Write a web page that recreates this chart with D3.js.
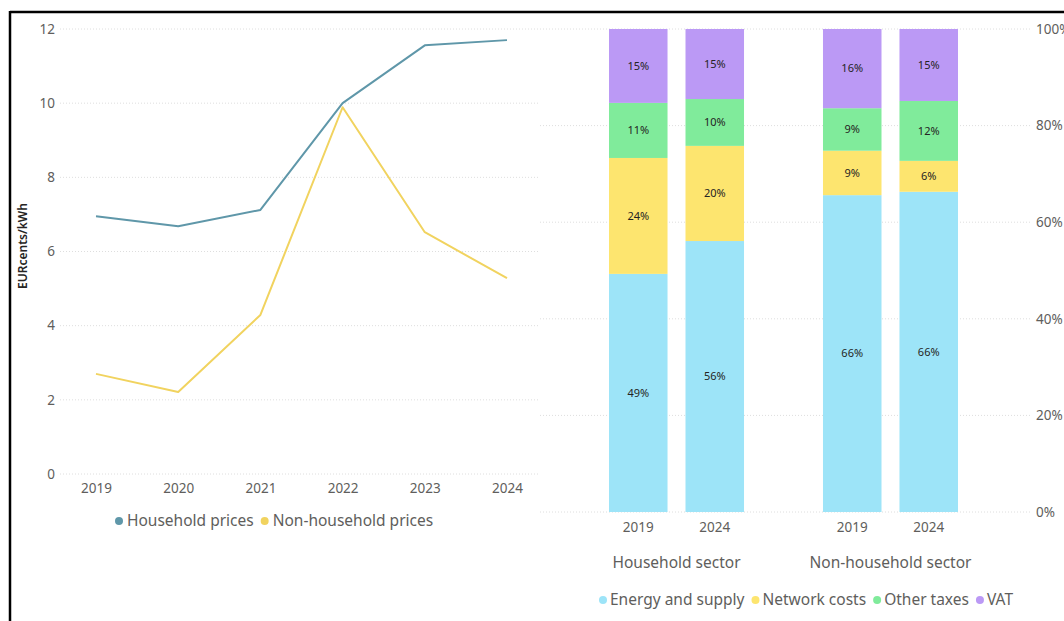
<!DOCTYPE html>
<html>
<head>
<meta charset="utf-8">
<script src="https://cdn.jsdelivr.net/npm/d3@7"></script>
<style>
  html, body { margin: 0; padding: 0; background: #fff; }
  svg { display: block; font-family: "Segoe UI", "Noto Sans", "Open Sans", sans-serif; }
</style>
</head>
<body>
<svg id="chart" width="1064" height="621"></svg>
<script>
// ---- Price trend (line chart) ----
const years = ["2019", "2020", "2021", "2022", "2023", "2024"];
const householdPrices = [6.95, 6.68, 7.12, 10.0, 11.56, 11.7];
const nonHouseholdPrices = [2.70, 2.21, 4.29, 9.89, 6.52, 5.28];
const priceTicks = [0, 2, 4, 6, 8, 10, 12];
const lineSeries = ["Household prices", "Non-household prices"];
const lineColors = ["#5f97a9", "#f1d35f"];

// ---- Price composition (100% stacked bars) ----
const sectors = ["Household sector", "Non-household sector"];
const barYears = ["2019", "2024"];
const components = ["Energy and supply", "Network costs", "Other taxes", "VAT"];
const componentColors = ["#9de4f8", "#fde56f", "#80eb9b", "#bb99f5"];
// shares per bar, in order: household 2019, household 2024, non-household 2019, non-household 2024
const energyShare = [49.3, 56.1, 65.6, 66.3];
const networkShare = [24.0, 19.7, 9.2, 6.4];
const otherTaxShare = [11.4, 9.7, 8.8, 12.4];
const vatShare = [15.3, 14.5, 16.4, 14.9];
const shareTicks = [0, 20, 40, 60, 80, 100];

const svg = d3.select("#chart");
const textGray = "#605e5c";
const font = "Noto Sans, sans-serif";

// frame lines
svg.append("line").attr("x1", 10).attr("x2", 1064).attr("y1", 12).attr("y2", 12)
  .attr("stroke", "#000").attr("stroke-width", 2.5);
svg.append("line").attr("x1", 10).attr("x2", 10).attr("y1", 11).attr("y2", 621)
  .attr("stroke", "#000").attr("stroke-width", 2.5);

// ================= Line chart =================
const xL = d3.scalePoint().domain(years).range([96, 507]);
const yL = d3.scaleLinear().domain([0, 12]).range([474, 29]);

const gridL = svg.append("g");
gridL.selectAll("line").data(priceTicks).join("line")
  .attr("x1", 60).attr("x2", 538)
  .attr("y1", d => yL(d)).attr("y2", d => yL(d))
  .attr("stroke", "#dedede").attr("stroke-width", 1).attr("stroke-dasharray", "1,2");

const yAxisL = svg.append("g").attr("transform", "translate(55,0)")
  .call(d3.axisLeft(yL).tickValues(priceTicks).tickSize(0).tickPadding(0));
yAxisL.select(".domain").remove();
yAxisL.selectAll("text").attr("fill", textGray).attr("font-size", 13.5).attr("font-family", font);

const xAxisL = svg.append("g").attr("transform", "translate(0,481)")
  .call(d3.axisBottom(xL).tickSize(0).tickPadding(0));
xAxisL.select(".domain").remove();
xAxisL.selectAll("text").attr("fill", textGray).attr("font-size", 13.5)
  .attr("font-family", font).attr("dy", "0.9em");

svg.append("text")
  .attr("transform", "translate(27,246) rotate(-90)")
  .attr("text-anchor", "middle")
  .attr("font-size", 12).attr("font-weight", 600)
  .attr("font-family", font)
  .attr("fill", "#252423")
  .text("EURcents/kWh");

const line = d3.line().x((d, i) => xL(years[i])).y(d => yL(d));
[householdPrices, nonHouseholdPrices].forEach((vals, k) => {
  svg.append("path").datum(vals)
    .attr("d", line).attr("fill", "none")
    .attr("stroke", lineColors[k]).attr("stroke-width", 2)
    .attr("stroke-linejoin", "round");
});

// line legend
const legL = svg.append("g").attr("transform", "translate(0,521)");
let lx = 119;
lineSeries.forEach((name, i) => {
  legL.append("circle").attr("cx", lx).attr("cy", 0).attr("r", 4).attr("fill", lineColors[i]);
  const t = legL.append("text").attr("x", lx + 8).attr("y", 0).attr("dy", "0.35em")
    .attr("font-size", 15.5).attr("fill", textGray)
    .attr("font-family", font).text(name);
  lx += 8 + t.node().getComputedTextLength() + 11;
});

// ================= Stacked bar chart =================
const yR = d3.scaleLinear().domain([0, 100]).range([512, 29]);
const barKeys = sectors.flatMap(s => barYears.map(y => s + "|" + y));
const xSector = d3.scaleBand().domain(sectors).range([609, 958]).paddingInner(0.369).paddingOuter(0);
const xYear = d3.scaleBand().domain(barYears).range([0, xSector.bandwidth()]).paddingInner(0.235).paddingOuter(0);

const gridR = svg.append("g");
gridR.selectAll("line").data(shareTicks).join("line")
  .attr("x1", 540).attr("x2", 1032)
  .attr("y1", d => yR(d)).attr("y2", d => yR(d))
  .attr("stroke", "#dedede").attr("stroke-width", 1).attr("stroke-dasharray", "1,2");

const yAxisR = svg.append("g").attr("transform", "translate(1036,0)")
  .call(d3.axisRight(yR).tickValues(shareTicks).tickFormat(d => d + "%").tickSize(0).tickPadding(0));
yAxisR.select(".domain").remove();
yAxisR.selectAll("text").attr("fill", textGray).attr("font-size", 13.5).attr("font-family", font);

const shares = [energyShare, networkShare, otherTaxShare, vatShare];
const rows = barKeys.map((key, i) => {
  const row = { key };
  components.forEach((c, j) => { row[c] = shares[j][i]; });
  return row;
});
const stacked = d3.stack().keys(components).offset(d3.stackOffsetExpand)(rows);

const barX = key => {
  const [s, y] = key.split("|");
  return xSector(s) + xYear(y);
};

stacked.forEach((layer, j) => {
  const g = svg.append("g");
  g.selectAll("rect").data(layer).join("rect")
    .attr("x", d => barX(d.data.key))
    .attr("width", xYear.bandwidth())
    .attr("y", d => yR(d[1] * 100))
    .attr("height", d => yR(d[0] * 100) - yR(d[1] * 100))
    .attr("fill", componentColors[j]);
  g.selectAll("text").data(layer).join("text")
    .attr("x", d => barX(d.data.key) + xYear.bandwidth() / 2)
    .attr("y", d => (yR(d[0] * 100) + yR(d[1] * 100)) / 2)
    .attr("dy", "0.35em").attr("text-anchor", "middle")
    .attr("font-size", 11).attr("fill", "#252423")
    .attr("font-family", font)
    .text(d => Math.round(d.data[components[j]]) + "%");
});

// year labels under bars, sector labels below them
sectors.forEach(s => {
  barYears.forEach(y => {
    svg.append("text")
      .attr("x", xSector(s) + xYear(y) + xYear.bandwidth() / 2)
      .attr("y", 527).attr("dy", "0.35em").attr("text-anchor", "middle")
      .attr("font-size", 13.5).attr("fill", textGray)
      .attr("font-family", font).text(y);
  });
  svg.append("text")
    .attr("x", xSector(s) + xSector.bandwidth() / 2)
    .attr("y", 563).attr("dy", "0.35em").attr("text-anchor", "middle")
    .attr("font-size", 15.5).attr("fill", textGray)
    .attr("font-family", font).text(s);
});

// bar legend
const legR = svg.append("g").attr("transform", "translate(0,600)");
let rx = 603;
components.forEach((name, i) => {
  legR.append("circle").attr("cx", rx).attr("cy", 0).attr("r", 4).attr("fill", componentColors[i]);
  const t = legR.append("text").attr("x", rx + 7).attr("y", 0).attr("dy", "0.35em")
    .attr("font-size", 15.5).attr("fill", textGray)
    .attr("font-family", font).text(name);
  rx += 7 + t.node().getComputedTextLength() + 11;
});
</script>
</body>
</html>
